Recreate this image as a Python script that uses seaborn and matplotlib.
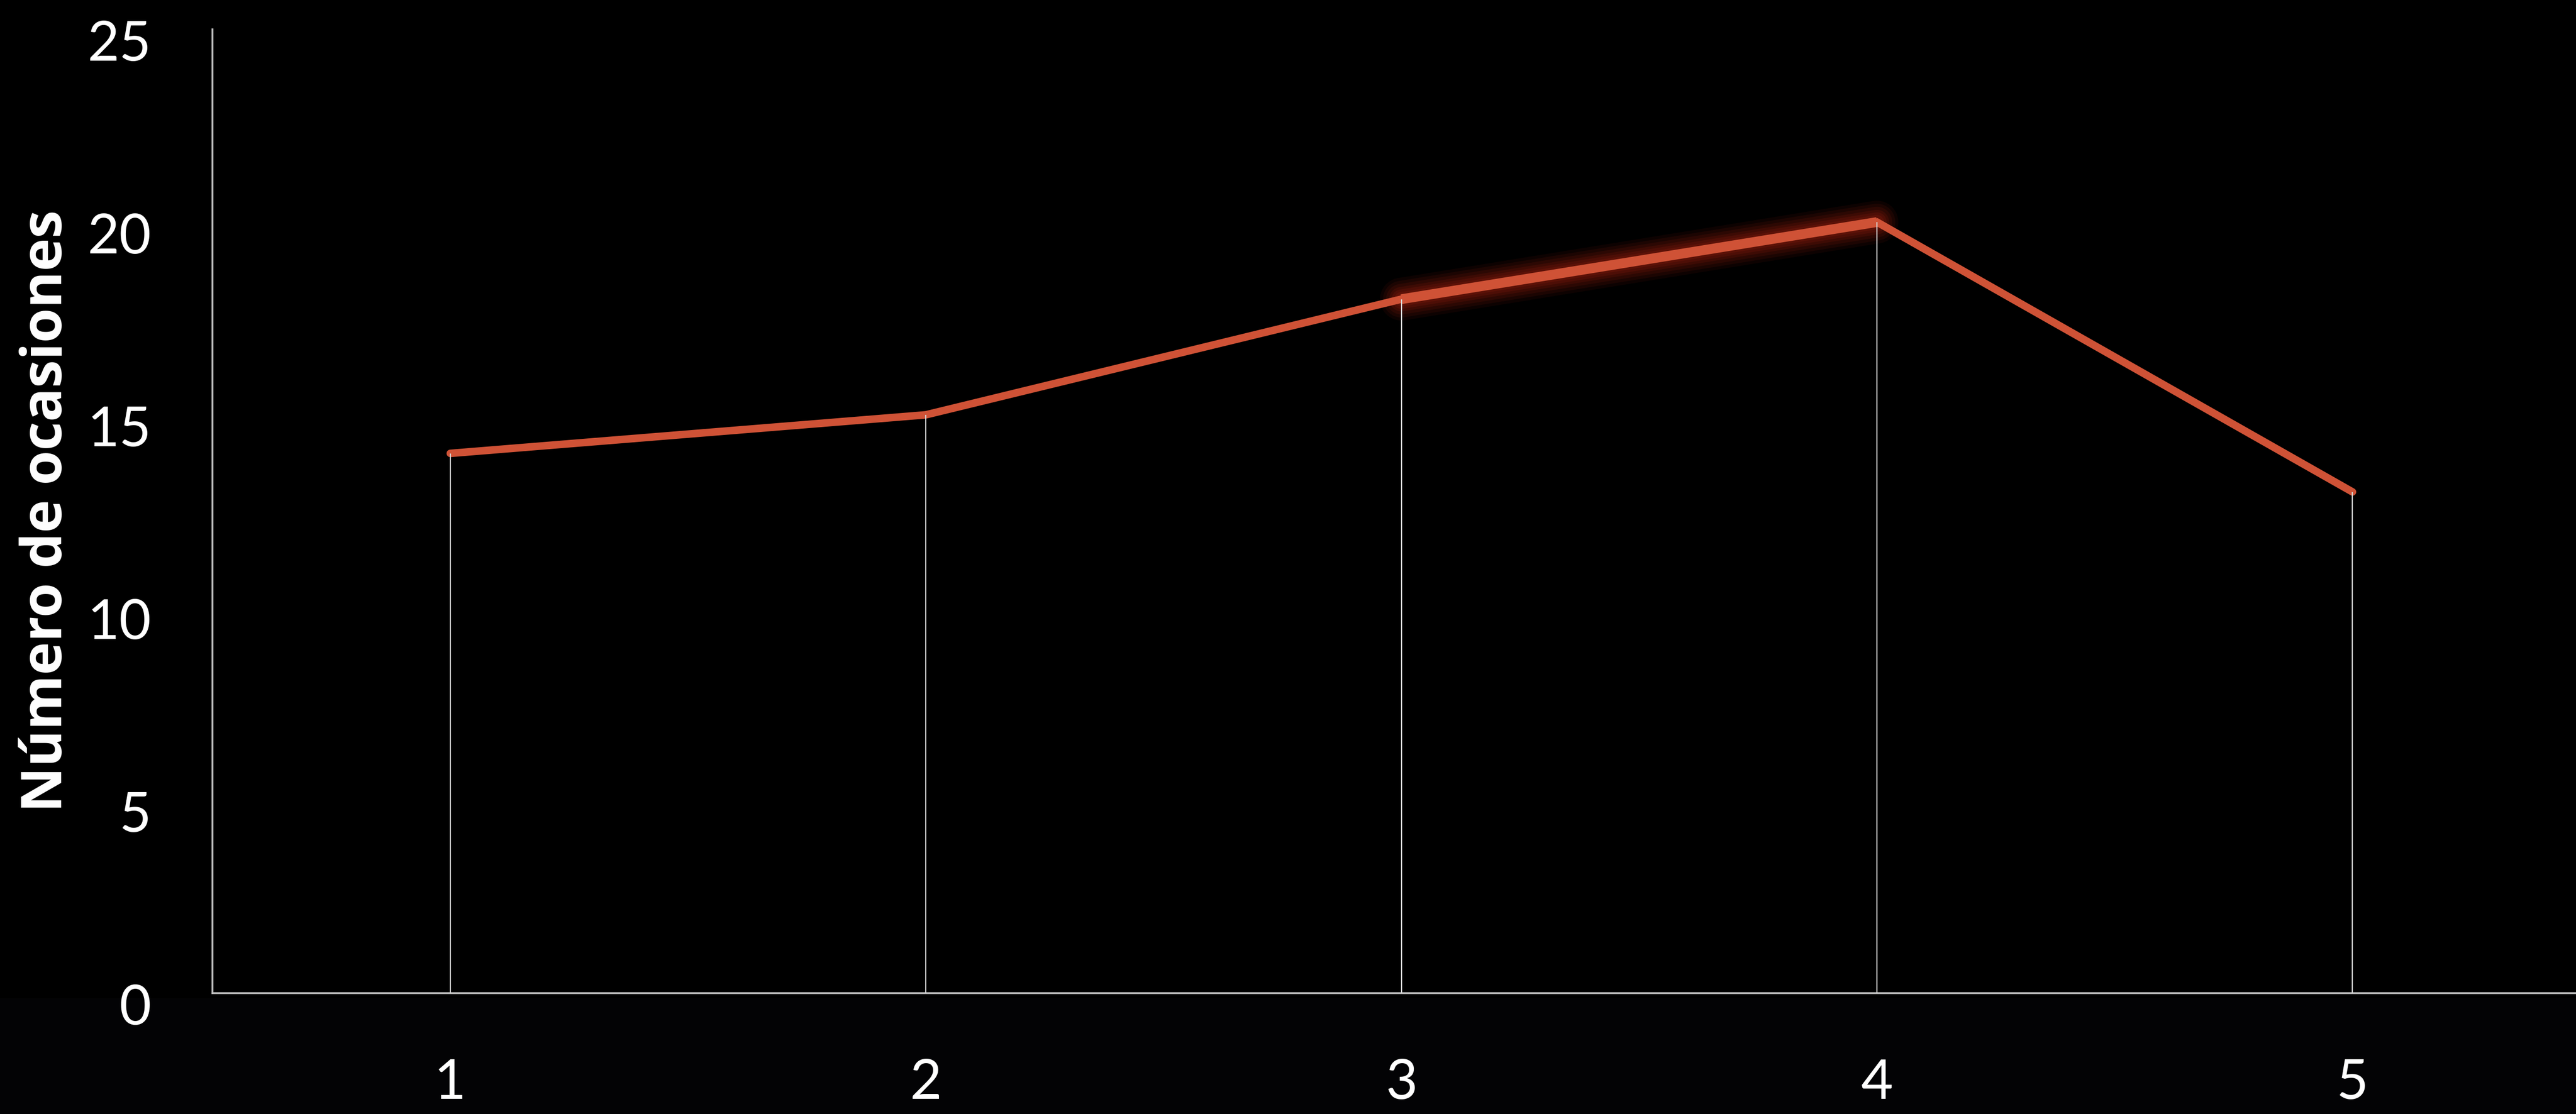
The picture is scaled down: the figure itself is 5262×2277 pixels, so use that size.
import matplotlib
matplotlib.use("Agg")
import matplotlib.pyplot as plt
import matplotlib.patches as mpatches
import matplotlib.transforms as mtransforms
import pandas as pd
import seaborn as sns

# Data
rondas = [1, 2, 3, 4, 5]
ocasiones = [14, 15, 18, 20, 13]
y_ticks = [0, 5, 10, 15, 20, 25]
x_tick_labels = ["1", "2", "3", "4", "5"]
y_label = "Número de ocasiones"

df = pd.DataFrame({"ronda": rondas, "ocasiones": ocasiones})

LINE = "#CF5236"
GLOW = "#6E160A"
AXIS = "#BDBDBD"

sns.set_theme(style="white")
plt.rcParams["font.family"] = ["Lato", "DejaVu Sans"]

fig = plt.figure(figsize=(5262 / 300, 2277 / 300), dpi=300, facecolor="black")
# faint dark band along the bottom of the figure
fig.patches.append(mpatches.Rectangle((0, 0), 1, 0.104, transform=fig.transFigure,
                                      facecolor="#030305", edgecolor="none", zorder=-5))
ax = fig.add_axes([0.0825, 0.1085, 0.9175, 0.8652])
ax.set_facecolor("black")

# glow behind the segment between rounds 3 and 4
seg = df[df["ronda"].isin([3, 4])]
for lw, a in [(21, 0.12), (18, 0.16), (15, 0.2), (12, 0.26), (9.5, 0.34), (7, 0.45)]:
    ax.plot(seg["ronda"], seg["ocasiones"], color=GLOW, lw=lw, alpha=a,
            solid_capstyle="round", zorder=1)

sns.lineplot(data=df, x="ronda", y="ocasiones", ax=ax, color=LINE, lw=3.7,
             solid_capstyle="round", solid_joinstyle="miter", zorder=3)
ax.plot(seg["ronda"], seg["ocasiones"], color=LINE, lw=4.8,
        solid_capstyle="butt", zorder=3)

# drop lines from each point to the baseline
ax.vlines(df["ronda"], 0, df["ocasiones"], color="#D8D8D8", lw=0.55, zorder=4)

ax.set_xlim(0.5, 5.47)
ax.set_ylim(0, 25)
ax.set_xticks(rondas)
ax.set_xticklabels(x_tick_labels)
ax.set_yticks(y_ticks)
ax.tick_params(axis="both", length=0, colors="white", labelsize=27)
ax.tick_params(axis="y", pad=30)
ax.tick_params(axis="x", pad=32)

# y tick labels sit slightly below their tick positions
shift = mtransforms.ScaledTranslation(0, -5.5 / 72, fig.dpi_scale_trans)
for lbl in ax.get_yticklabels():
    lbl.set_transform(lbl.get_transform() + shift)

for side in ["top", "right"]:
    ax.spines[side].set_visible(False)
for side in ["left", "bottom"]:
    ax.spines[side].set_color(AXIS)
    ax.spines[side].set_linewidth(0.9)

ax.set_xlabel("")
ax.set_ylabel(y_label, color="white", fontsize=27.5, fontweight="bold",
              family=["Open Sans", "DejaVu Sans"])
ax.yaxis.set_label_coords(-0.058, 0.5)

fig.savefig("out.png", dpi=300, facecolor=fig.get_facecolor())
